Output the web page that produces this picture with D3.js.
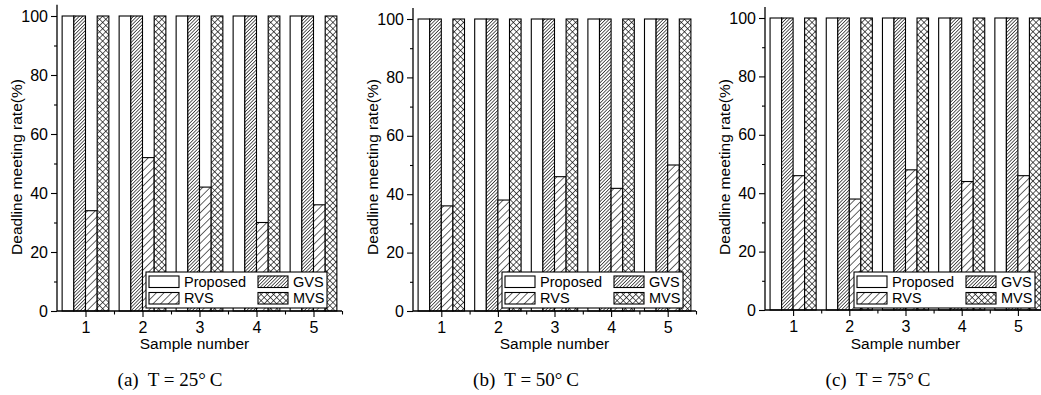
<!DOCTYPE html>
<html>
<head>
<meta charset="utf-8">
<script src="https://cdn.jsdelivr.net/npm/d3@7"></script>
<style>
  html, body { margin: 0; padding: 0; background: #fff; }
  svg { display: block; }
  .tick text { font-family: "Liberation Sans", Arial, sans-serif; font-size: 16px; fill: #000; }
  .lbl { font-family: "Liberation Sans", Arial, sans-serif; font-size: 15.5px; fill: #000; }
  .leg { font-family: "Liberation Sans", Arial, sans-serif; font-size: 14.5px; fill: #000; }
  .cap { font-family: "Liberation Serif", "Times New Roman", serif; font-size: 19px; fill: #000; }
</style>
</head>
<body>
<svg id="chart" width="1041" height="395"></svg>
<script>
// --- data ---
const samples = [1, 2, 3, 4, 5];
const seriesNames = ["Proposed", "GVS", "RVS", "MVS"];
const panelLetters = ["(a)", "(b)", "(c)"];
const temperatures = [25, 50, 75];

const proposedRate = [100, 100, 100, 100, 100];
const gvsRate = [100, 100, 100, 100, 100];
const mvsRate = [100, 100, 100, 100, 100];
const rvsRate25 = [34, 52, 42, 30, 36];
const rvsRate50 = [36, 38, 46, 42, 50];
const rvsRate75 = [46, 38, 48, 44, 46];

const yTicks = [0, 20, 40, 60, 80, 100];
const yMinorTicks = [10, 30, 50, 70, 90];
const xMinorTicks = [1.5, 2.5, 3.5, 4.5, 5.5];

const rvsByPanel = [rvsRate25, rvsRate50, rvsRate75];

// --- layout of the three panels (pixels) ---
const panels = [
    { left: 57,  width: 285, bottom: 311, top: 16 },
    { left: 413, width: 283, bottom: 311, top: 19 },
    { left: 765, width: 281, bottom: 310, top: 18 }
];

const svg = d3.select("#chart");
const defs = svg.append("defs");

// hatch patterns: dense "/", sparse "/", cross
function hatch(id, spacing, width, cross) {
    const p = defs.append("pattern")
        .attr("id", id)
        .attr("patternUnits", "userSpaceOnUse")
        .attr("width", spacing)
        .attr("height", spacing)
        .attr("patternTransform", "rotate(45)");
    p.append("rect").attr("width", spacing).attr("height", spacing).attr("fill", "#fff");
    p.append("line")
        .attr("x1", 0).attr("y1", 0).attr("x2", 0).attr("y2", spacing)
        .attr("stroke", "#000").attr("stroke-width", width);
    if (cross) {
        p.append("line")
            .attr("x1", 0).attr("y1", 0).attr("x2", spacing).attr("y2", 0)
            .attr("stroke", "#000").attr("stroke-width", width);
    }
}
hatch("gvs", 2.4, 1.25, false);
hatch("rvs", 5.4, 1.2, false);
hatch("mvs", 4.4, 1.25, true);

const fills = ["#fff", "url(#gvs)", "url(#rvs)", "url(#mvs)"];

panels.forEach((pl, pi) => {
    const g = svg.append("g");

    const x = d3.scaleLinear().domain([0.5, 5.5]).range([pl.left, pl.left + pl.width]);
    const y = d3.scaleLinear().domain([0, 100]).range([pl.bottom, pl.top]);

    const series = [proposedRate, gvsRate, rvsByPanel[pi], mvsRate];
    const bw = (x(1) - x(0.5)) * 0.41;

    const rows = [];
    samples.forEach((s, i) => {
        series.forEach((vals, k) => rows.push({ sample: s, k: k, value: vals[i] }));
    });

    g.append("g")
        .selectAll("rect")
        .data(rows)
        .join("rect")
        .attr("x", d => x(d.sample) + (d.k - 2) * bw)
        .attr("y", d => y(d.value))
        .attr("width", bw)
        .attr("height", d => y(0) - y(d.value))
        .attr("fill", d => fills[d.k])
        .attr("stroke", "#000")
        .attr("stroke-width", 1.1);

    // y axis
    const yAxis = g.append("g")
        .attr("transform", `translate(${pl.left},0)`)
        .call(d3.axisLeft(y).tickValues(yTicks).tickSize(6).tickSizeOuter(0).tickPadding(3));
    yAxis.select(".domain").remove();
    g.append("g")
        .attr("transform", `translate(${pl.left},0)`)
        .call(d3.axisLeft(y).tickValues(yMinorTicks).tickSize(3).tickFormat(""))
        .select(".domain").remove();
    g.append("line")
        .attr("x1", pl.left).attr("x2", pl.left)
        .attr("y1", y(0)).attr("y2", y(103.8))
        .attr("stroke", "#000").attr("stroke-width", 1.3);

    // x axis
    const xAxis = g.append("g")
        .attr("transform", `translate(0,${pl.bottom})`)
        .call(d3.axisBottom(x).tickValues(samples).tickFormat(d3.format("d")).tickSize(6).tickSizeOuter(0).tickPadding(5));
    xAxis.select(".domain").remove();
    g.append("g")
        .attr("transform", `translate(0,${pl.bottom})`)
        .call(d3.axisBottom(x).tickValues(xMinorTicks).tickSize(3.5).tickFormat(""))
        .select(".domain").remove();
    g.append("line")
        .attr("x1", pl.left).attr("x2", x(5.5))
        .attr("y1", pl.bottom).attr("y2", pl.bottom)
        .attr("stroke", "#000").attr("stroke-width", 1.3);
    g.selectAll(".tick line").attr("stroke", "#000").attr("stroke-width", 1.1);

    // axis titles
    g.append("text")
        .attr("class", "lbl")
        .attr("text-anchor", "middle")
        .attr("transform", `translate(${pl.left - 35},${167}) rotate(-90)`)
        .text("Deadline meeting rate(%)");
    g.append("text")
        .attr("class", "lbl")
        .attr("text-anchor", "middle")
        .attr("x", x(3) - (pi === 0 ? 5 : 0))
        .attr("y", 349)
        .text("Sample number");

    // legend
    const L = pl.left + 89, T = 272;
    const leg = g.append("g").attr("transform", `translate(${L},${T})`);
    leg.append("rect")
        .attr("width", 181).attr("height", 36)
        .attr("fill", "#fff").attr("stroke", "#000").attr("stroke-width", 1.1);
    seriesNames.forEach((name, k) => {
        const col = k % 2, row = Math.floor(k / 2);
        const sx = 3 + col * 109, sy = 4 + row * 16.5;
        leg.append("rect")
            .attr("x", sx).attr("y", sy)
            .attr("width", 30).attr("height", 11.5)
            .attr("fill", fills[k]).attr("stroke", "#000").attr("stroke-width", 1.1);
        leg.append("text")
            .attr("class", "leg")
            .attr("x", sx + 35).attr("y", sy + 10.5)
            .text(name);
    });

    // caption
    g.append("text")
        .attr("class", "cap")
        .attr("text-anchor", "middle")
        .attr("x", pl.left + 113)
        .attr("y", 386)
        .attr("xml:space", "preserve")
        .style("white-space", "pre")
        .text(`${panelLetters[pi]}  T = ${temperatures[pi]}\u00B0\u2009C`);
});
</script>
</body>
</html>
